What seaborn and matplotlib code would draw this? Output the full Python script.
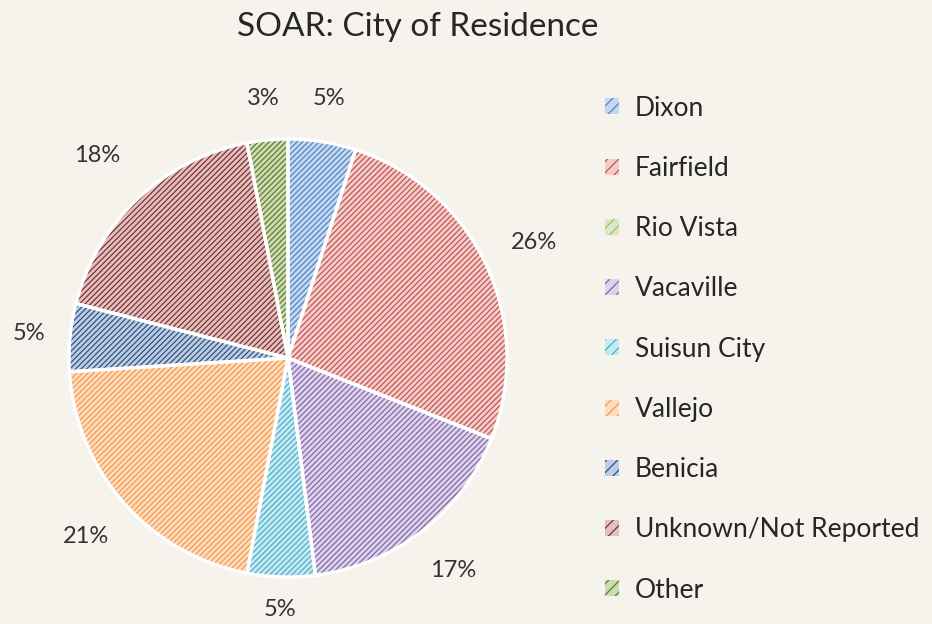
import matplotlib
matplotlib.use("Agg")
import numpy as np
import matplotlib.pyplot as plt
from matplotlib.patches import Patch
import seaborn as sns

# ---- data ----
cities = ["Dixon", "Fairfield", "Rio Vista", "Vacaville", "Suisun City",
          "Vallejo", "Benicia", "Unknown/Not Reported", "Other"]
shares = [5, 26, 0, 17, 5, 21, 5, 18, 3]
title = "SOAR: City of Residence"

fill_colors = ["#c5d8f2", "#f4cdca", "#dde9c6", "#ddd3ec", "#c6eaf3",
               "#fddcbf", "#bccde6", "#e3c0c0", "#cbdcb0"]
line_colors = ["#4f81bd", "#c0504d", "#9bbb59", "#8064a2", "#4bacc6",
               "#f79646", "#2c4d75", "#772c2a", "#5f7530"]
# label distance (in radii) for each slice's percentage
label_dist = [1.20, 1.24, 1.2, 1.23, 1.15, 1.23, 1.19, 1.27, 1.19]

bg = "#f6f3ec"
HATCH = "//////"
sns.set_theme(style="white", rc={"figure.facecolor": bg, "axes.facecolor": bg,
                                 "savefig.facecolor": bg, "hatch.linewidth": 0.85})
plt.rcParams["font.family"] = ["Lato", "DejaVu Sans"]

W, H = 932, 624
fig = plt.figure(figsize=(W / 100, H / 100), dpi=100)
cx, cy, R = 288, 358, 219
ax = fig.add_axes([(cx - R) / W, (H - cy - R) / H, 2 * R / W, 2 * R / H])

def fmt(p):
    return f"{p:.0f}%" if p > 0.5 else ""

# base fill
wedges, texts, autotexts = ax.pie(
    shares, colors=fill_colors, startangle=90, counterclock=False, radius=1,
    autopct=fmt, pctdistance=1.2,
    wedgeprops=dict(linewidth=0),
    textprops=dict(fontsize=17, color="#333333"))
for w, t, d in zip(wedges, autotexts, label_dist):
    th = np.deg2rad((w.theta1 + w.theta2) / 2)
    t.set_position((d * np.cos(th), d * np.sin(th)))
    t.set_ha("center")
    t.set_va("center")
# hatch overlay
hatch_w, _ = ax.pie(shares, startangle=90, counterclock=False, radius=1,
                    colors=["none"] * len(shares),
                    wedgeprops=dict(linewidth=0, hatch=HATCH))
for w, lc in zip(hatch_w, line_colors):
    w.set_edgecolor(lc)
    w.set_linewidth(0)
# white borders
ax.pie(shares, startangle=90, counterclock=False, radius=1,
       colors=["none"] * len(shares),
       wedgeprops=dict(edgecolor="white", linewidth=2.4))

ax.set_xlim(-1, 1)
ax.set_ylim(-1, 1)
ax.set_aspect("equal")
ax.axis("off")

fig.text(418 / W, 1 - 27 / H, title, ha="center", va="center",
         fontsize=24, color="#262626")

handles = [Patch(facecolor=fc, edgecolor=lc, hatch="///", linewidth=0)
           for fc, lc in zip(fill_colors, line_colors)]
leg = fig.legend(handles, cities, loc="upper left",
                 bbox_to_anchor=(581 / W, 1 - 72 / H), frameon=False,
                 fontsize=19, handlelength=0.55, handleheight=0.55,
                 handletextpad=0.6, labelspacing=1.335, labelcolor="#262626")

fig.savefig("out.png", dpi=100, facecolor=bg)
